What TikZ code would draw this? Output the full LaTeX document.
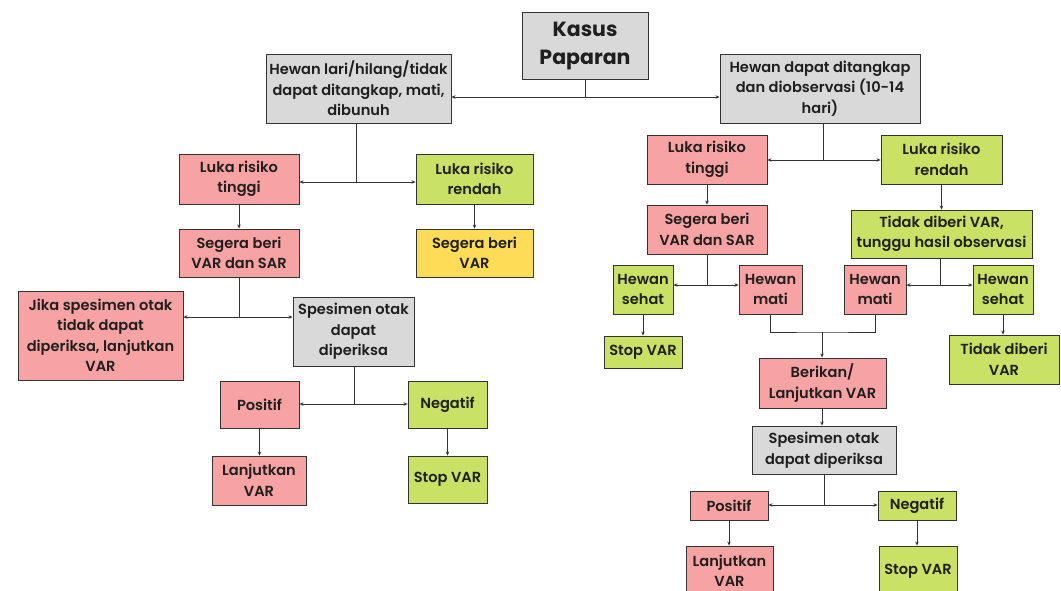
\documentclass[tikz,border=0pt]{standalone}
\usepackage{fontspec}
\setmainfont{Poppins SemiBold}
\newfontfamily\titlefont{Poppins Bold}
\usetikzlibrary{arrows.meta,positioning,calc}
\definecolor{boxred}{HTML}{F8A3A3}
\definecolor{boxgreen}{HTML}{C9E265}
\definecolor{boxyellow}{HTML}{FFDC58}
\definecolor{boxgray}{HTML}{D9D9D9}
\definecolor{linecol}{HTML}{333333}
\tikzset{
    box/.style={draw=linecol, line width=0.9pt, align=center, inner sep=1pt,
        text=black!88, font=\fontsize{14.6}{20.5}\selectfont},
    redbox/.style={box, fill=boxred},
    greenbox/.style={box, fill=boxgreen},
    yellowbox/.style={box, fill=boxyellow},
    graybox/.style={box, fill=boxgray},
    size/.style 2 args={minimum width=#1pt, minimum height=#2pt},
    arr/.style={-{Stealth[length=4pt,width=3.5pt]}, linecol, line width=0.9pt},
    wire/.style={linecol, line width=0.9pt},
}

\begin{document}
\begin{tikzpicture}[x=1pt, y=-1pt]
    \useasboundingbox (0,0) rectangle (1061,590);

    % top of the tree
    \node[graybox, size={126}{67}, font=\titlefont\fontsize{20.5}{28.5}\selectfont] (kasus) at (585,46) {Kasus\\Paparan};
    \node[graybox, size={185}{69}] (lari) at (358.5,88.5) {Hewan lari/hilang/tidak\\dapat ditangkap, mati,\\dibunuh};
    \node[graybox, size={200}{69}] (tangkap) at (820,88.5) {Hewan dapat ditangkap\\dan diobservasi (10-14\\hari)};

    % left branch
    \node[redbox, size={120}{50}] (tinggiL) at (239,179) {Luka risiko\\tinggi};
    \node[greenbox, size={117}{50}] (rendahL) at (474.5,179) {Luka risiko\\rendah};
    \node[redbox, size={120}{48}] (segeraL) at (239,253) {Segera beri\\VAR dan SAR};
    \node[yellowbox, size={117}{48}] (segeraV) at (474.5,253) {Segera beri\\VAR};
    \node[redbox, size={165}{89}] (jika) at (100.5,335.5) {Jika spesimen otak\\tidak dapat\\diperiksa, lanjutkan\\VAR};
    \node[graybox, size={121}{69}] (otakL) at (353.5,331.5) {Spesimen otak\\dapat\\diperiksa};
    \node[redbox, size={79}{47}] (posL) at (259.5,404.5) {Positif};
    \node[greenbox, size={79}{47}] (negL) at (447.5,404.5) {Negatif};
    \node[redbox, size={94}{49}] (lanjutL) at (259,480.5) {Lanjutkan\\VAR};
    \node[greenbox, size={79}{47}] (stopL) at (447.5,479.5) {Stop VAR};

    % right branch
    \node[redbox, size={120}{49}] (tinggiR) at (707,159.5) {Luka risiko\\tinggi};
    \node[greenbox, size={121}{49}] (rendahR) at (941.5,159.5) {Luka risiko\\rendah};
    \node[redbox, size={120}{49}] (segeraR) at (707,229.5) {Segera beri\\VAR dan SAR};
    \node[greenbox, size={181}{48}] (tunggu) at (941.5,234) {Tidak diberi VAR,\\tunggu hasil observasi};
    \node[greenbox, size={60}{49}] (sehat1) at (643,289.5) {Hewan\\sehat};
    \node[redbox, size={63}{49}] (mati1) at (770.5,289.5) {Hewan\\mati};
    \node[redbox, size={62}{49}] (mati2) at (875,289.5) {Hewan\\mati};
    \node[greenbox, size={60}{49}] (sehat2) at (1003,289.5) {Hewan\\sehat};
    \node[greenbox, size={78}{32}] (stopR) at (643,352) {Stop VAR};
    \node[greenbox, size={110}{49}] (tidakR) at (1004,359.5) {Tidak diberi\\VAR};
    \node[redbox, size={127}{50}] (berikan) at (822.5,383) {Berikan/\\Lanjutkan VAR};
    \node[graybox, size={144}{48}] (otakR) at (824,450) {Spesimen otak\\dapat diperiksa};
    \node[redbox, size={78}{29}] (posR) at (729,505.5) {Positif};
    \node[greenbox, size={78}{29}] (negR) at (917,505.5) {Negatif};
    \node[redbox, size={87}{50}] (lanjutR) at (729.5,571) {Lanjutkan\\VAR};
    \node[greenbox, size={78}{50}] (stopR2) at (918,571) {Stop VAR};

    % junctions
    \coordinate (j0) at (585,97);
    \coordinate (j1) at (356,182);
    \coordinate (j2) at (239,317);
    \coordinate (j3) at (354,404);
    \coordinate (j4) at (823,160);
    \coordinate (j5) at (707,285);
    \coordinate (j6) at (940,285);
    \coordinate (j7) at (822,332);
    \coordinate (j8) at (824,505);

    \draw[wire] (kasus.south) -- (j0);
    \draw[arr] (j0) -- (j0 -| lari.east);
    \draw[arr] (j0) -- (j0 -| tangkap.west);

    \draw[wire] (j1 |- lari.south) -- (j1);
    \draw[arr] (j1) -- (j1 -| tinggiL.east);
    \draw[arr] (j1) -- (j1 -| rendahL.west);
    \draw[arr] (tinggiL) -- (segeraL);
    \draw[arr] (rendahL) -- (segeraV);
    \draw[wire] (segeraL.south) -- (j2);
    \draw[arr] (j2) -- (j2 -| jika.east);
    \draw[arr] (j2) -- (j2 -| otakL.west);
    \draw[wire] (j3 |- otakL.south) -- (j3);
    \draw[arr] (j3) -- (j3 -| posL.east);
    \draw[arr] (j3) -- (j3 -| negL.west);
    \draw[arr] (posL) -- (posL |- lanjutL.north);
    \draw[arr] (negL) -- (stopL);

    \draw[wire] (j4 |- tangkap.south) -- (j4);
    \draw[arr] (j4) -- (j4 -| tinggiR.east);
    \draw[arr] (j4) -- (j4 -| rendahR.west);
    \draw[arr] (tinggiR) -- (segeraR);
    \draw[arr] (rendahR) -- (tunggu);
    \draw[wire] (segeraR.south) -- (j5);
    \draw[arr] (j5) -- (j5 -| sehat1.east);
    \draw[arr] (j5) -- (j5 -| mati1.west);
    \draw[wire] (j6 |- tunggu.south) -- (j6);
    \draw[arr] (j6) -- (j6 -| mati2.east);
    \draw[arr] (j6) -- (j6 -| sehat2.west);
    \draw[arr] (sehat1) -- (stopR);
    \draw[arr] (sehat2) -- (sehat2 |- tidakR.north);
    \draw[wire] (mati1.south) |- (j7) -| (mati2.south);
    \draw[arr] (j7) -- (j7 |- berikan.north);
    \draw[arr] (j7 |- berikan.south) -- (j7 |- otakR.north);
    \draw[wire] (j8 |- otakR.south) -- (j8);
    \draw[arr] (j8) -- (j8 -| posR.east);
    \draw[arr] (j8) -- (j8 -| negR.west);
    \draw[arr] (posR) -- (posR |- lanjutR.north);
    \draw[arr] (negR) -- (negR |- stopR2.north);
\end{tikzpicture}
\end{document}
